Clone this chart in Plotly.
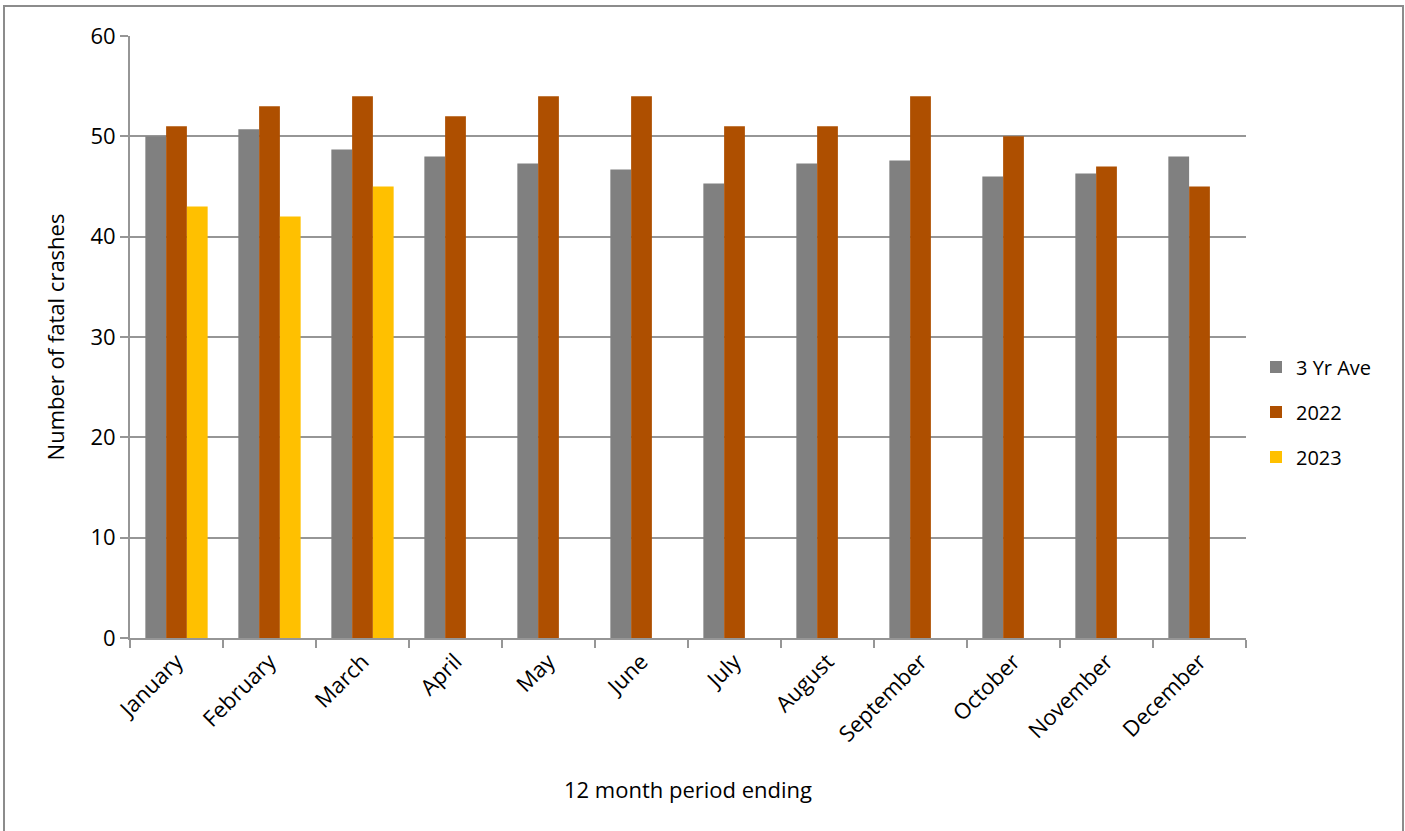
import plotly.graph_objects as go

months = ["January", "February", "March", "April", "May", "June", "July",
          "August", "September", "October", "November", "December"]
ave_3yr = [50.0, 50.7, 48.7, 48.0, 47.3, 46.7, 45.3, 47.3, 47.6, 46.0, 46.3, 48.0]
y2022 = [51, 53, 54, 52, 54, 54, 51, 51, 54, 50, 47, 45]
y2023 = [43, 42, 45, None, None, None, None, None, None, None, None, None]

series = [("3 Yr Ave", ave_3yr, "#808080"),
          ("2022", y2022, "#AE4F00"),
          ("2023", y2023, "#FFC000")]

W, H = 1405, 831
L, R, T, B = 130, 1246, 36, 638

fig = go.Figure()
for i, (name, vals, col) in enumerate(series):
    fig.add_trace(go.Bar(x=months, y=vals, name=name, marker_color=col,
                         marker_line_width=0, legendgroup=str(i)))

font_family = "'Open Sans', 'Noto Sans', 'Liberation Sans', sans-serif"
pw = R - L
ph = B - T

fig.update_layout(
    width=W, height=H,
    margin=dict(l=L, r=W - R, t=T, b=H - B, pad=0),
    paper_bgcolor="white", plot_bgcolor="white",
    barmode="group", bargap=0.33, bargroupgap=0,
    font=dict(family=font_family, size=22, color="black"),
    showlegend=True,
    legend=dict(x=(1256 - L) / pw, y=(638 - 412) / ph, xanchor="left", yanchor="middle",
                font=dict(size=20), tracegroupgap=16, itemwidth=30,
                bgcolor="rgba(0,0,0,0)"),
    xaxis=dict(type="category", tickson="boundaries", ticks="outside", ticklen=8,
               tickcolor="#969696", tickwidth=2,
               showline=True, linecolor="#969696", linewidth=2,
               showgrid=False, tickangle=-45, tickfont=dict(size=22),
               title=dict(text="12 month period ending", font=dict(size=22), standoff=36)),
    yaxis=dict(range=[0, 60], dtick=10, ticks="outside", ticklen=8,
               tickcolor="#969696", tickwidth=2,
               showline=True, linecolor="#969696", linewidth=2,
               showgrid=True, gridcolor="#969696", gridwidth=2,
               zeroline=False, tickfont=dict(size=22),
               title=dict(text="Number of fatal crashes", font=dict(size=22), standoff=20)),
    shapes=[dict(type="rect", xref="paper", yref="paper",
                 x0=(4 - L) / pw, x1=(1403 - L) / pw,
                 y0=(B - 840) / ph, y1=(B - 6) / ph,
                 line=dict(color="#8c8c8c", width=2), fillcolor="rgba(0,0,0,0)",
                 layer="below")],
)

fig.write_html("out.html", config={"displayModeBar": False},
               post_script="document.body.style.margin='0';document.body.style.padding='0';")
